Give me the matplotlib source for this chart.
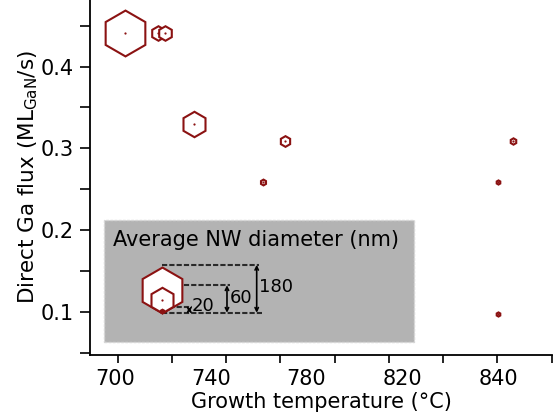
import numpy as np
import matplotlib
matplotlib.use('Agg')
import matplotlib.pyplot as plt
from matplotlib.patches import Rectangle
from matplotlib.transforms import ScaledTranslation

# data
temperature = [704, 718, 721, 733, 771, 762, 843, 840, 840]
ga_flux = [0.441, 0.441, 0.441, 0.330, 0.309, 0.259, 0.309, 0.259, 0.097]
diameter = [180, 40, 40, 60, 33, 24, 25, 21, 21]

legend_diam = [180, 60, 20]
xtick_values = [700, 740, 780, 820, 840]
xtick_labels = ['700', '740', '780', '820', '840']
ytick_values = [0.1, 0.2, 0.3, 0.4]

red = '#8b1212'

# temperature axis is not linear (820 -> 840 is stretched)
t_knots = [680, 820, 860]
p_knots = [67.2, 402.0, 594.0]


def fwd(t):
    return np.interp(t, t_knots, p_knots)


def inv(p):
    return np.interp(p, p_knots, t_knots)


def size(d):
    # marker size (pt) for a nanowire diameter (nm)
    return np.interp(d, [20, 60, 180], [2.6, 18.3, 33])


fig = plt.figure(figsize=(5.6, 4.18), dpi=100)
ax = fig.add_axes([90 / 560, 63 / 418, 462 / 560, 355 / 418])
ax.set_xscale('function', functions=(fwd, inv))

for t, f, d in zip(temperature, ga_flux, diameter):
    ax.plot(t, f, marker='h', ms=size(d), mfc='white', mec=red, mew=1.5,
            ls='none', zorder=2)
    ax.plot(t, f, marker='o', ms=1.6, color=red, mec='none', ls='none',
            zorder=2)

ax.set_xlim(inv(90), inv(551.7))
ax.set_ylim(0.047, 0.4815)

ax.set_xticks(xtick_values)
ax.set_xticklabels(xtick_labels)
ax.set_xticks(inv(np.linspace(117.7, 551.3, 9)), minor=True)
ax.tick_params(axis='x', which='major', length=0, pad=10, labelsize=15)
ax.tick_params(axis='x', which='minor', length=6, width=1.2)

ax.set_yticks(ytick_values)
ax.set_yticklabels(['0.1', '0.2', '0.3', '0.4'])
ax.set_yticks([0.05, 0.15, 0.25, 0.35, 0.45], minor=True)
ax.tick_params(axis='y', which='both', length=7, width=1.2, labelsize=15, pad=5)

for s in ['top', 'right']:
    ax.spines[s].set_visible(False)
for s in ['left', 'bottom']:
    ax.spines[s].set_linewidth(1.3)

ax.set_xlabel('Growth temperature (°C)', fontsize=15, labelpad=2)
ax.set_ylabel(r'Direct Ga flux (ML$_{\mathregular{GaN}}$/s)', fontsize=15.5,
              labelpad=0)

# size legend box
ax.add_patch(Rectangle((0.0303, 0.0366), 0.671, 0.3437, transform=ax.transAxes,
                       facecolor='#b3b3b3', edgecolor='#d6d6d6', lw=1,
                       ls=(0, (2, 1)), zorder=3, clip_on=False))
ax.text(0.0498, 0.324, 'Average NW diameter (nm)', transform=ax.transAxes,
        fontsize=15, ha='left', va='center', zorder=4)

bx, by = 0.1565, 0.119
bracket_x = [0.3608, 0.2965, 0.2149]
pt = fig.dpi_scale_trans
for d, brx in zip(legend_diam, bracket_x):
    ms = size(d)
    centre = ax.transAxes + ScaledTranslation(0, ms / 2 / 72, pt)
    top = ax.transAxes + ScaledTranslation(0, (ms + 1.5) / 72, pt)
    ax.plot(bx, by, marker='h', ms=ms, mfc='white', mec=red, mew=1.5,
            ls='none', transform=centre, zorder=5, clip_on=False)
    ax.plot(bx, by, marker='o', ms=1.6, color=red, mec='none', ls='none',
            transform=centre, zorder=5, clip_on=False)
    ax.plot([bx, brx + 0.006], [by, by], transform=top, color='#2a2a2a',
            lw=1.5, ls=(0, (2.5, 1)), zorder=4, clip_on=False)
    ax.annotate('', xy=(brx, by), xycoords=top, xytext=(brx, by),
                textcoords=ax.transAxes,
                arrowprops=dict(arrowstyle='<->', lw=1.2, color='black',
                                shrinkA=0, shrinkB=0, mutation_scale=6),
                zorder=6)
    mid = ax.transAxes + ScaledTranslation(2 / 72, ((ms + 1.5) / 2 + (3 if d == 20 else 1)) / 72, pt)
    ax.text(brx, by, str(d), transform=mid, fontsize=13, ha='left',
            va='center', zorder=6)

ax.plot([bx, 0.372], [by, by], transform=ax.transAxes, color='#2a2a2a',
        lw=1.5, ls=(0, (2.5, 1)), zorder=4, clip_on=False)

fig.savefig('out.png', dpi=100)
